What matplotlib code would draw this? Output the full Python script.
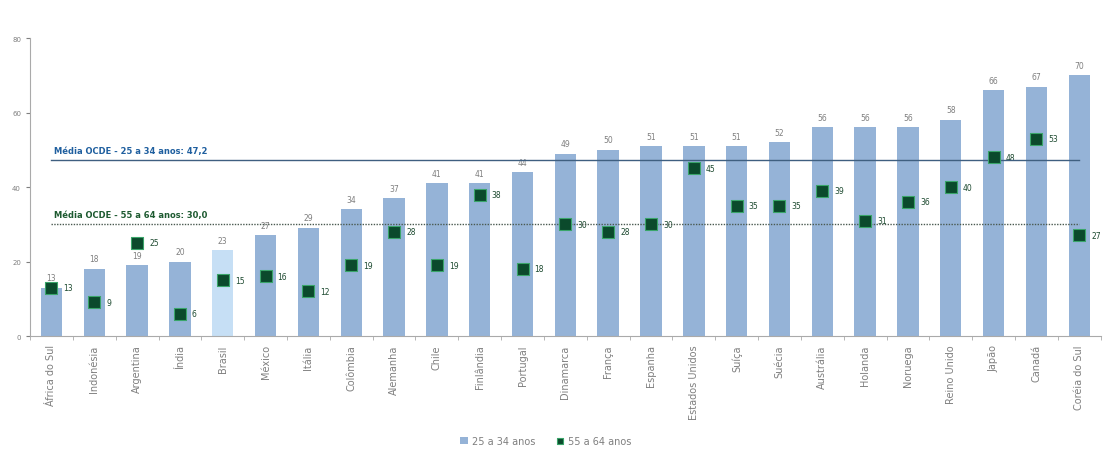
import matplotlib.pyplot as plt
import numpy as np

paises = ['África do Sul', 'Indonésia', 'Argentina', 'Índia', 'Brasil', 'México', 'Itália',
          'Colômbia', 'Alemanha', 'Chile', 'Finlândia', 'Portugal', 'Dinamarca', 'França',
          'Espanha', 'Estados Unidos', 'Suíça', 'Suécia', 'Austrália', 'Holanda', 'Noruega',
          'Reino Unido', 'Japão', 'Canadá', 'Coréia do Sul']
jovens = [13, 18, 19, 20, 23, 27, 29, 34, 37, 41, 41, 44, 49, 50, 51, 51, 51, 52, 56, 56, 56, 58, 66, 67, 70]
idosos = [13, 9, 25, 6, 15, 16, 12, 19, 28, 19, 38, 18, 30, 28, 30, 45, 35, 35, 39, 31, 36, 40, 48, 53, 27]
media_jovens = 47.2
media_idosos = 30.0
yticks = [0, 20, 40, 60, 80]

cor_barra = '#95b3d7'
cor_brasil = '#c6dff5'
cor_quadrado = '#0b4a2c'
cor_borda = '#3aa56a'
cinza = '#7f7f7f'

fig = plt.figure(figsize=(11.14, 4.77), dpi=100)
ax = fig.add_axes([0.027, 0.2935, 0.961, 0.6245])

x = np.arange(len(paises))
cores = [cor_brasil if p == 'Brasil' else cor_barra for p in paises]
barras = ax.bar(x, jovens, width=0.5, color=cores, zorder=2)
pontos = ax.scatter(x, idosos, marker='s', s=64, color=cor_quadrado, edgecolors=cor_borda,
                    linewidths=0.8, zorder=4)

for xi, v in zip(x, jovens):
    ax.text(xi, v + 1.5, str(v), ha='center', va='bottom', fontsize=5.5, color=cinza)
for xi, v in zip(x, idosos):
    ax.text(xi + 0.28, v, str(v), ha='left', va='center', fontsize=5.5, color='#1d4a30')

# linhas de média OCDE
ax.plot([0, len(paises) - 1], [media_jovens, media_jovens], color='#3f5f80', lw=1.0, zorder=3)
ax.plot([0, len(paises) - 1], [media_idosos, media_idosos], color='#4a5a50', lw=1.0,
        linestyle=(0, (1, 1)), zorder=3)
ax.text(0.05, media_jovens + 1.5, 'Média OCDE - 25 a 34 anos: 47,2', fontsize=6,
        fontweight='bold', color='#1f5f9f', va='bottom', ha='left')
ax.text(0.05, media_idosos + 1.5, 'Média OCDE - 55 a 64 anos: 30,0', fontsize=6,
        fontweight='bold', color='#1d5a30', va='bottom', ha='left')

ax.set_xlim(-0.5, len(paises) - 0.5)
ax.set_ylim(0, 80)
ax.set_yticks(yticks)
ax.tick_params(axis='y', labelsize=5, colors=cinza, length=3)
ax.set_xticks(x)
ax.set_xticklabels(paises, rotation=90, fontsize=7, color=cinza)
ax.tick_params(axis='x', length=0, pad=6)
ax.set_xticks(np.arange(len(paises) + 1) - 0.5, minor=True)
ax.tick_params(axis='x', which='minor', length=3, colors='#aaaaaa')
for s in ['top', 'right']:
    ax.spines[s].set_visible(False)
ax.spines['left'].set_color('#aaaaaa')
ax.spines['bottom'].set_color('#aaaaaa')

fig.legend([barras, pontos], ['25 a 34 anos', '55 a 64 anos'], loc='lower center',
           bbox_to_anchor=(0.49, 0.045), ncol=2, frameon=False,
           fontsize=7, labelcolor=cinza, handlelength=0.8, handleheight=0.8,
           handletextpad=0.4, columnspacing=2.2, markerscale=0.6)

fig.savefig('out.png', dpi=100)
